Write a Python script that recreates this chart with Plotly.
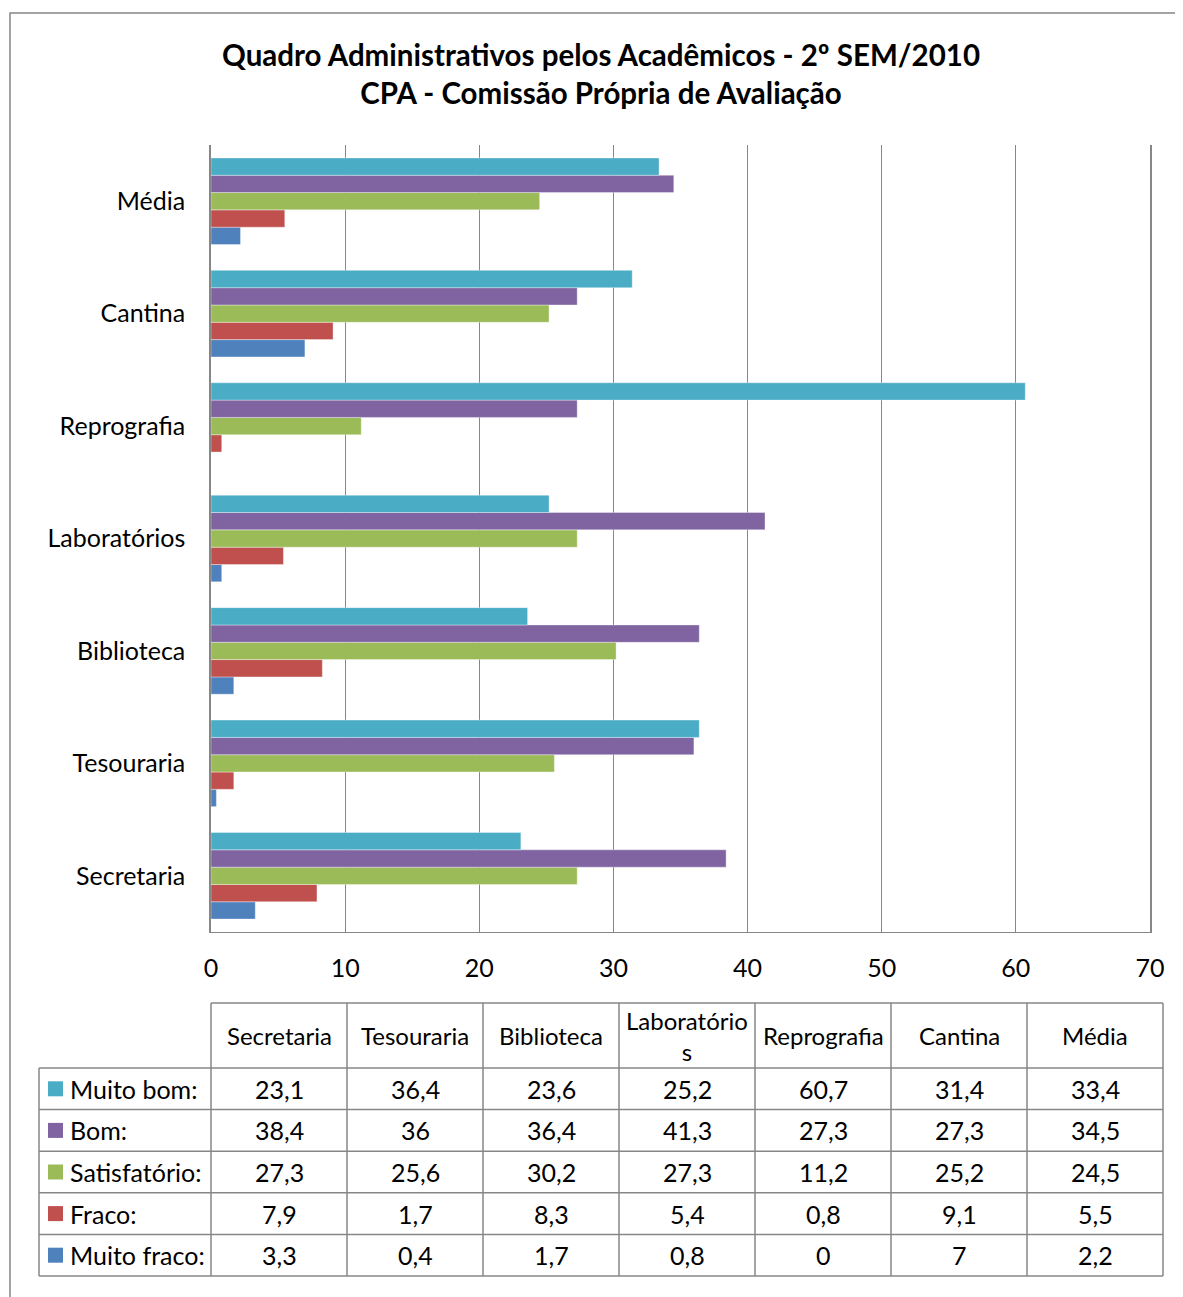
import plotly.graph_objects as go

categories = ["Secretaria", "Tesouraria", "Biblioteca", "Laboratórios", "Reprografia", "Cantina", "Média"]
header_labels = ["Secretaria", "Tesouraria", "Biblioteca", "Laboratório<br>s", "Reprografia", "Cantina", "Média"]
series_names = ["Muito bom:", "Bom:", "Satisfatório:", "Fraco:", "Muito fraco:"]
muito_bom = [23.1, 36.4, 23.6, 25.2, 60.7, 31.4, 33.4]
bom = [38.4, 36, 36.4, 41.3, 27.3, 27.3, 34.5]
satisfatorio = [27.3, 25.6, 30.2, 27.3, 11.2, 25.2, 24.5]
fraco = [7.9, 1.7, 8.3, 5.4, 0.8, 9.1, 5.5]
muito_fraco = [3.3, 0.4, 1.7, 0.8, 0, 7, 2.2]
colors = ["#4BACC6", "#8064A2", "#9BBB59", "#C0504D", "#4F81BD"]
x_ticks = [0, 10, 20, 30, 40, 50, 60, 70]

series_values = [muito_bom, bom, satisfatorio, fraco, muito_fraco]

OFF = 8  # page body margin
SW, SH = 1183, 1297
W, H = SW - OFF, SH - OFF
# plot area in screen pixels
SL, SR, ST, SB = 211, 1150, 145, 932
L, R, T, B = SL - OFF, SR - OFF, ST - OFF, SB - OFF
FONT = "Lato"
GRAY = "#878787"
FS = 25


def px(x):
    return (x - SL) / (SR - SL)


def py(y):
    return (SB - y) / (SB - ST)


fig = go.Figure()
# plotly places the first trace at the bottom of each group -> add in reverse
for name, vals, col in reversed(list(zip(series_names, series_values, colors))):
    fig.add_trace(go.Bar(
        y=categories, x=vals, orientation="h", name=name,
        marker=dict(color=col, line=dict(color="rgba(255,255,255,0.6)", width=0.6)),
        showlegend=False,
    ))

fig.update_layout(
    width=W, height=H,
    margin=dict(l=L, r=W - R, t=T, b=H - B),
    paper_bgcolor="white", plot_bgcolor="white",
    barmode="group", bargap=0.23, bargroupgap=0,
    font=dict(family=FONT, color="black", size=FS),
)
fig.update_xaxes(
    range=[0, 70], tickvals=x_ticks, showgrid=True, gridcolor=GRAY, gridwidth=1.2,
    zeroline=False, showline=True, linecolor=GRAY, linewidth=1.2,
    tickfont=dict(size=FS, family=FONT), ticks="", ticklen=0, ticklabelstandoff=14,
)
fig.update_yaxes(
    categoryorder="array", categoryarray=categories,
    showgrid=False, zeroline=False, showline=True, mirror=True, linecolor=GRAY, linewidth=1.5,
    tickfont=dict(size=FS, family=FONT), ticks="", ticklabelstandoff=19,
)

shapes = []
annotations = []

# outer chart border (left and top edges visible)
shapes.append(dict(type="path", xref="paper", yref="paper",
                   path=f"M {px(10)},{py(SH + 20)} L {px(10)},{py(13)} L {px(SW + 20)},{py(13)}",
                   line=dict(color=GRAY, width=1.5)))

# title
annotations.append(dict(
    xref="paper", yref="paper", x=px(601), y=py(74), xanchor="center", yanchor="middle",
    text="<b>Quadro Administrativos pelos Acadêmicos - 2º SEM/2010<br>CPA - Comissão Própria de Avaliação</b>",
    showarrow=False, font=dict(size=29.5, family=FONT), align="center",
))

# data table
col_edges = [211 + 136 * i for i in range(len(categories) + 1)]
head_top, head_bot = 1003, 1068
row_h = 41.6
row_edges = [head_bot + row_h * i for i in range(len(series_names) + 1)]
tab_left = 39


def hline(x0, x1, y):
    shapes.append(dict(type="line", xref="paper", yref="paper", x0=px(x0), x1=px(x1), y0=py(y), y1=py(y),
                       line=dict(color=GRAY, width=1.5)))


def vline(x, y0, y1):
    shapes.append(dict(type="line", xref="paper", yref="paper", x0=px(x), x1=px(x), y0=py(y0), y1=py(y1),
                       line=dict(color=GRAY, width=1.5)))


hline(col_edges[0], col_edges[-1], head_top)
for y in row_edges:
    hline(tab_left, col_edges[-1], y)
for x in col_edges:
    vline(x, head_top, row_edges[-1])
vline(tab_left, row_edges[0], row_edges[-1])

for j, lab in enumerate(header_labels):
    cx = (col_edges[j] + col_edges[j + 1]) / 2
    annotations.append(dict(xref="paper", yref="paper", x=px(cx), y=py((head_top + head_bot) / 2),
                            xanchor="center", yanchor="middle", text=lab, showarrow=False,
                            font=dict(size=FS - 1, family=FONT), align="center"))

for i, (name, vals, col) in enumerate(zip(series_names, series_values, colors)):
    cy = (row_edges[i] + row_edges[i + 1]) / 2
    shapes.append(dict(type="rect", xref="paper", yref="paper",
                       x0=px(48), x1=px(63), y0=py(cy - 7.5), y1=py(cy + 7.5),
                       fillcolor=col, line=dict(width=0)))
    annotations.append(dict(xref="paper", yref="paper", x=px(68), y=py(cy), xanchor="left", yanchor="middle",
                            text=name, showarrow=False, font=dict(size=FS, family=FONT)))
    for j, v in enumerate(vals):
        cx = (col_edges[j] + col_edges[j + 1]) / 2
        txt = (f"{v:g}").replace(".", ",")
        annotations.append(dict(xref="paper", yref="paper", x=px(cx), y=py(cy), xanchor="center",
                                yanchor="middle", text=txt, showarrow=False, font=dict(size=FS, family=FONT)))

fig.update_layout(shapes=shapes, annotations=annotations)
fig.write_html("out.html")
